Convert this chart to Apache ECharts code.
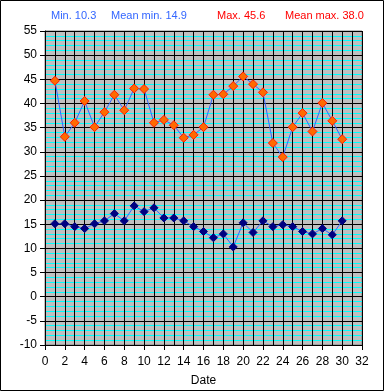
<!DOCTYPE html>
<html><head><meta charset="utf-8">
<script src="https://cdn.jsdelivr.net/npm/echarts@6/dist/echarts.min.js"></script>
<style>html,body{margin:0;padding:0;background:#fff}#c{width:386px;height:392px}</style>
</head><body><div id="c"></div>
<script>
const days = [1,2,3,4,5,6,7,8,9,10,11,12,13,14,15,16,17,18,19,20,21,22,23,24,25,26,27,28,29,30];
const maxTemps = [44.7,33.1,36.0,40.5,35.1,38.2,41.8,38.6,43.1,43.0,36.0,36.6,35.5,32.9,33.5,35.1,41.8,41.9,43.6,45.6,44.0,42.3,31.8,28.9,35.1,38.0,34.2,40.1,36.4,32.6];
const minTemps = [15.1,15.1,14.5,14.1,15.1,15.7,17.2,15.7,18.8,17.6,18.4,16.3,16.3,15.7,14.5,13.5,12.2,13.0,10.3,15.3,13.3,15.7,14.5,14.9,14.5,13.5,13.0,14.1,12.8,15.7];
const headerTexts = ['Min. 10.3','Mean min. 14.9','Max. 45.6','Mean max. 38.0'];
const xTitle = 'Date';

const chart = echarts.init(document.getElementById('c'), null, {renderer:'canvas'});
const font = 'Liberation Sans, Arial, sans-serif';
chart.setOption({
  animation:false,
  backgroundColor:'#fff',
  graphic:[
    {type:'rect', shape:{x:0.5,y:0.5,width:383,height:390}, style:{fill:null, stroke:'#000', lineWidth:1}, z:100},
    {type:'text', left:51, top:10, style:{text:headerTexts[0], fill:'#3366ff', font:'11px '+font}},
    {type:'text', left:111, top:10, style:{text:headerTexts[1], fill:'#3366ff', font:'11px '+font}},
    {type:'text', left:217, top:10, style:{text:headerTexts[2], fill:'#ff0000', font:'11px '+font}},
    {type:'text', left:285, top:10, style:{text:headerTexts[3], fill:'#ff0000', font:'11px '+font}}
  ],
  grid:{left:45, top:31, right:24, bottom:46, show:true, backgroundColor:'#c0c0c0', borderColor:'#808080', borderWidth:1},
  xAxis:{type:'value', min:0, max:32, interval:2,
    name:xTitle, nameLocation:'middle', nameGap:30, nameTextStyle:{color:'#000', fontSize:12, fontFamily:font},
    axisLine:{show:true, onZero:false, lineStyle:{color:'#000', width:1}},
    axisTick:{show:true, length:5, lineStyle:{color:'#000'}},
    axisLabel:{color:'#000', fontSize:12, fontFamily:font, margin:11},
    splitLine:{show:true, lineStyle:{color:'#000', width:1}},
    minorTick:{show:false, splitNumber:2},
    minorSplitLine:{show:true, lineStyle:{color:'#000', width:1}}
  },
  yAxis:{type:'value', min:-10, max:55, interval:5,
    axisLine:{show:true, onZero:false, lineStyle:{color:'#000', width:1}},
    axisTick:{show:true, length:5, lineStyle:{color:'#000'}},
    axisLabel:{color:'#000', fontSize:12, fontFamily:font, margin:8},
    splitLine:{show:true, lineStyle:{color:'#000', width:1}},
    minorTick:{show:false, splitNumber:5},
    minorSplitLine:{show:true, lineStyle:{color:'#00ffff', width:1}}
  },
  series:[
    {type:'line', data:days.map((d,i)=>[d,maxTemps[i]]), symbol:'diamond', symbolSize:9,
      lineStyle:{color:'#3366ff', width:1}, itemStyle:{color:'#ff6a00', borderColor:'#ff1a00', borderWidth:1}, z:3},
    {type:'line', data:days.map((d,i)=>[d,minTemps[i]]), symbol:'diamond', symbolSize:8,
      lineStyle:{color:'#3366ff', width:1}, itemStyle:{color:'#000080', borderColor:'#000080', borderWidth:1}, z:3}
  ]
});
</script></body></html>
